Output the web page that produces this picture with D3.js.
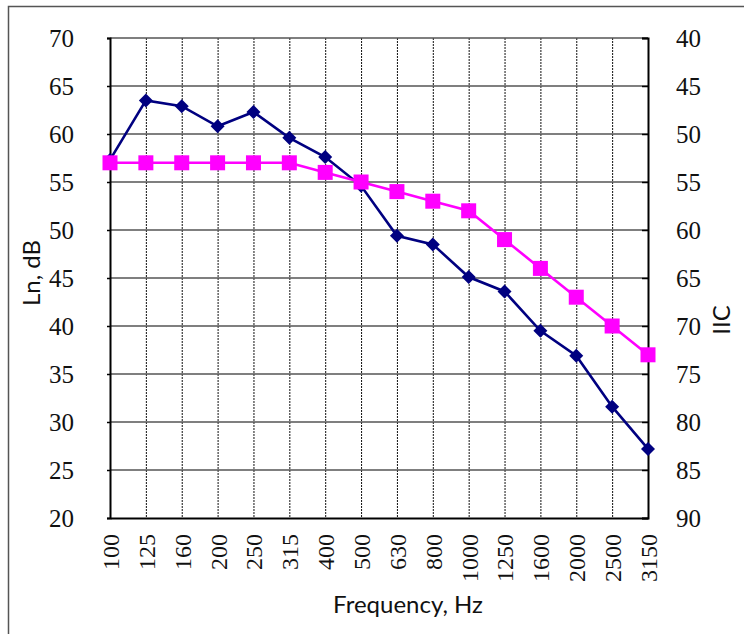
<!DOCTYPE html>
<html>
<head>
<meta charset="utf-8">
<script src="https://cdn.jsdelivr.net/npm/d3@7/dist/d3.min.js"></script>
<style>
  body { margin: 0; background: #fff; }
  svg { display: block; }
  .num { font-family: "Liberation Serif", "DejaVu Serif", "Times New Roman", serif; }
  .ttl { font-family: Lato, "Open Sans", "Liberation Sans", sans-serif; }
</style>
</head>
<body>
<div id="chart"></div>
<script>
// Frequency bands (Hz)
const frequencies = ["100", "125", "160", "200", "250", "315", "400", "500", "630", "800", "1000", "1250", "1600", "2000", "2500", "3150"];
// Ln, dB (left axis)
const lnValues = [57.3, 63.5, 62.9, 60.8, 62.3, 59.6, 57.6, 54.6, 49.4, 48.5, 45.1, 43.6, 39.5, 36.9, 31.6, 27.2];
// IIC contour (right axis, inverted)
const iicValues = [53, 53, 53, 53, 53, 53, 54, 55, 56, 57, 58, 61, 64, 67, 70, 73];

const leftTicks = [20, 25, 30, 35, 40, 45, 50, 55, 60, 65, 70];
const rightTicks = [40, 45, 50, 55, 60, 65, 70, 75, 80, 85, 90];

const W = 744, H = 634;
const plot = { left: 110, right: 648, top: 38, bottom: 518 };

const svg = d3.select("#chart").append("svg").attr("width", W).attr("height", H);

// outer frame
svg.append("rect")
  .attr("x", 8.5).attr("y", 6.5)
  .attr("width", 800).attr("height", 700)
  .attr("fill", "none").attr("stroke", "#555").attr("stroke-width", 1.5);

const x = d3.scalePoint().domain(frequencies).range([plot.left, plot.right]);
const yL = d3.scaleLinear().domain([20, 70]).range([plot.bottom, plot.top]);
const yR = d3.scaleLinear().domain([40, 90]).range([plot.top, plot.bottom]);

// vertical dotted gridlines
svg.append("g").selectAll("line")
  .data(frequencies.slice(1, -1))
  .join("line")
  .attr("x1", d => x(d) + 0.5).attr("x2", d => x(d) + 0.5)
  .attr("y1", plot.top).attr("y2", plot.bottom)
  .attr("stroke", "#111").attr("stroke-width", 1)
  .attr("stroke-dasharray", "2,1");

// horizontal gridlines
svg.append("g").selectAll("line")
  .data(leftTicks.slice(1))
  .join("line")
  .attr("x1", plot.left).attr("x2", plot.right)
  .attr("y1", d => yL(d)).attr("y2", d => yL(d))
  .attr("stroke", "#555").attr("stroke-width", 1.4);

// axes
const leftAxis = svg.append("g")
  .attr("transform", `translate(${plot.left},0)`)
  .call(d3.axisLeft(yL).tickValues(leftTicks).tickSize(3).tickPadding(33));
const rightAxis = svg.append("g")
  .attr("transform", `translate(${plot.right},0)`)
  .call(d3.axisRight(yR).tickValues(rightTicks).tickSize(-6).tickPadding(28));
const bottomAxis = svg.append("g")
  .attr("transform", `translate(0,${plot.bottom})`)
  .call(d3.axisBottom(x).tickSize(0));

[leftAxis, rightAxis, bottomAxis].forEach(a => {
  a.attr("font-family", null).attr("font-size", null);
  a.select(".domain").attr("stroke", "#000").attr("stroke-width", 2);
  a.selectAll(".tick line").attr("stroke", "#000").attr("stroke-width", 1.5);
  a.selectAll("text").attr("class", "num").attr("fill", "#111");
});
leftAxis.selectAll("text").style("font-size", "25px").attr("dy", "0.35em");
rightAxis.selectAll("text").style("font-size", "25px").attr("dy", "0.35em");
bottomAxis.selectAll("text")
  .style("font-size", "24px")
  .attr("transform", "rotate(-90)")
  .attr("text-anchor", "end")
  .attr("x", -16).attr("y", 0)
  .attr("dy", "0.35em");

// Ln line
svg.append("path")
  .datum(lnValues)
  .attr("fill", "none")
  .attr("stroke", "#000080").attr("stroke-width", 2.6)
  .attr("d", d3.line().x((d, i) => x(frequencies[i])).y(d => yL(d)));

svg.append("g").selectAll("path")
  .data(lnValues)
  .join("path")
  .attr("transform", (d, i) => `translate(${x(frequencies[i])},${yL(d)})`)
  .attr("d", "M0,-7L7,0L0,7L-7,0Z")
  .attr("fill", "#000080");

// IIC line
svg.append("path")
  .datum(iicValues)
  .attr("fill", "none")
  .attr("stroke", "#ff00ff").attr("stroke-width", 2.6)
  .attr("d", d3.line().x((d, i) => x(frequencies[i])).y(d => yR(d)));

svg.append("g").selectAll("rect")
  .data(iicValues)
  .join("rect")
  .attr("x", (d, i) => x(frequencies[i]) - 7.5)
  .attr("y", d => yR(d) - 7.5)
  .attr("width", 15).attr("height", 15)
  .attr("fill", "#ff00ff");

// axis titles
svg.append("text")
  .attr("class", "ttl")
  .attr("x", 408).attr("y", 613)
  .attr("text-anchor", "middle")
  .style("font-size", "24px")
  .attr("fill", "#111")
  .text("Frequency, Hz");

svg.append("text")
  .attr("class", "ttl")
  .attr("transform", "translate(40,273) rotate(-90)")
  .attr("text-anchor", "middle")
  .style("font-size", "24px")
  .attr("fill", "#111")
  .text("Ln, dB");

svg.append("text")
  .attr("class", "ttl")
  .attr("transform", "translate(730,320) rotate(-90)")
  .attr("text-anchor", "middle")
  .style("font-size", "24px")
  .attr("fill", "#111")
  .text("IIC");
</script>
</body>
</html>
